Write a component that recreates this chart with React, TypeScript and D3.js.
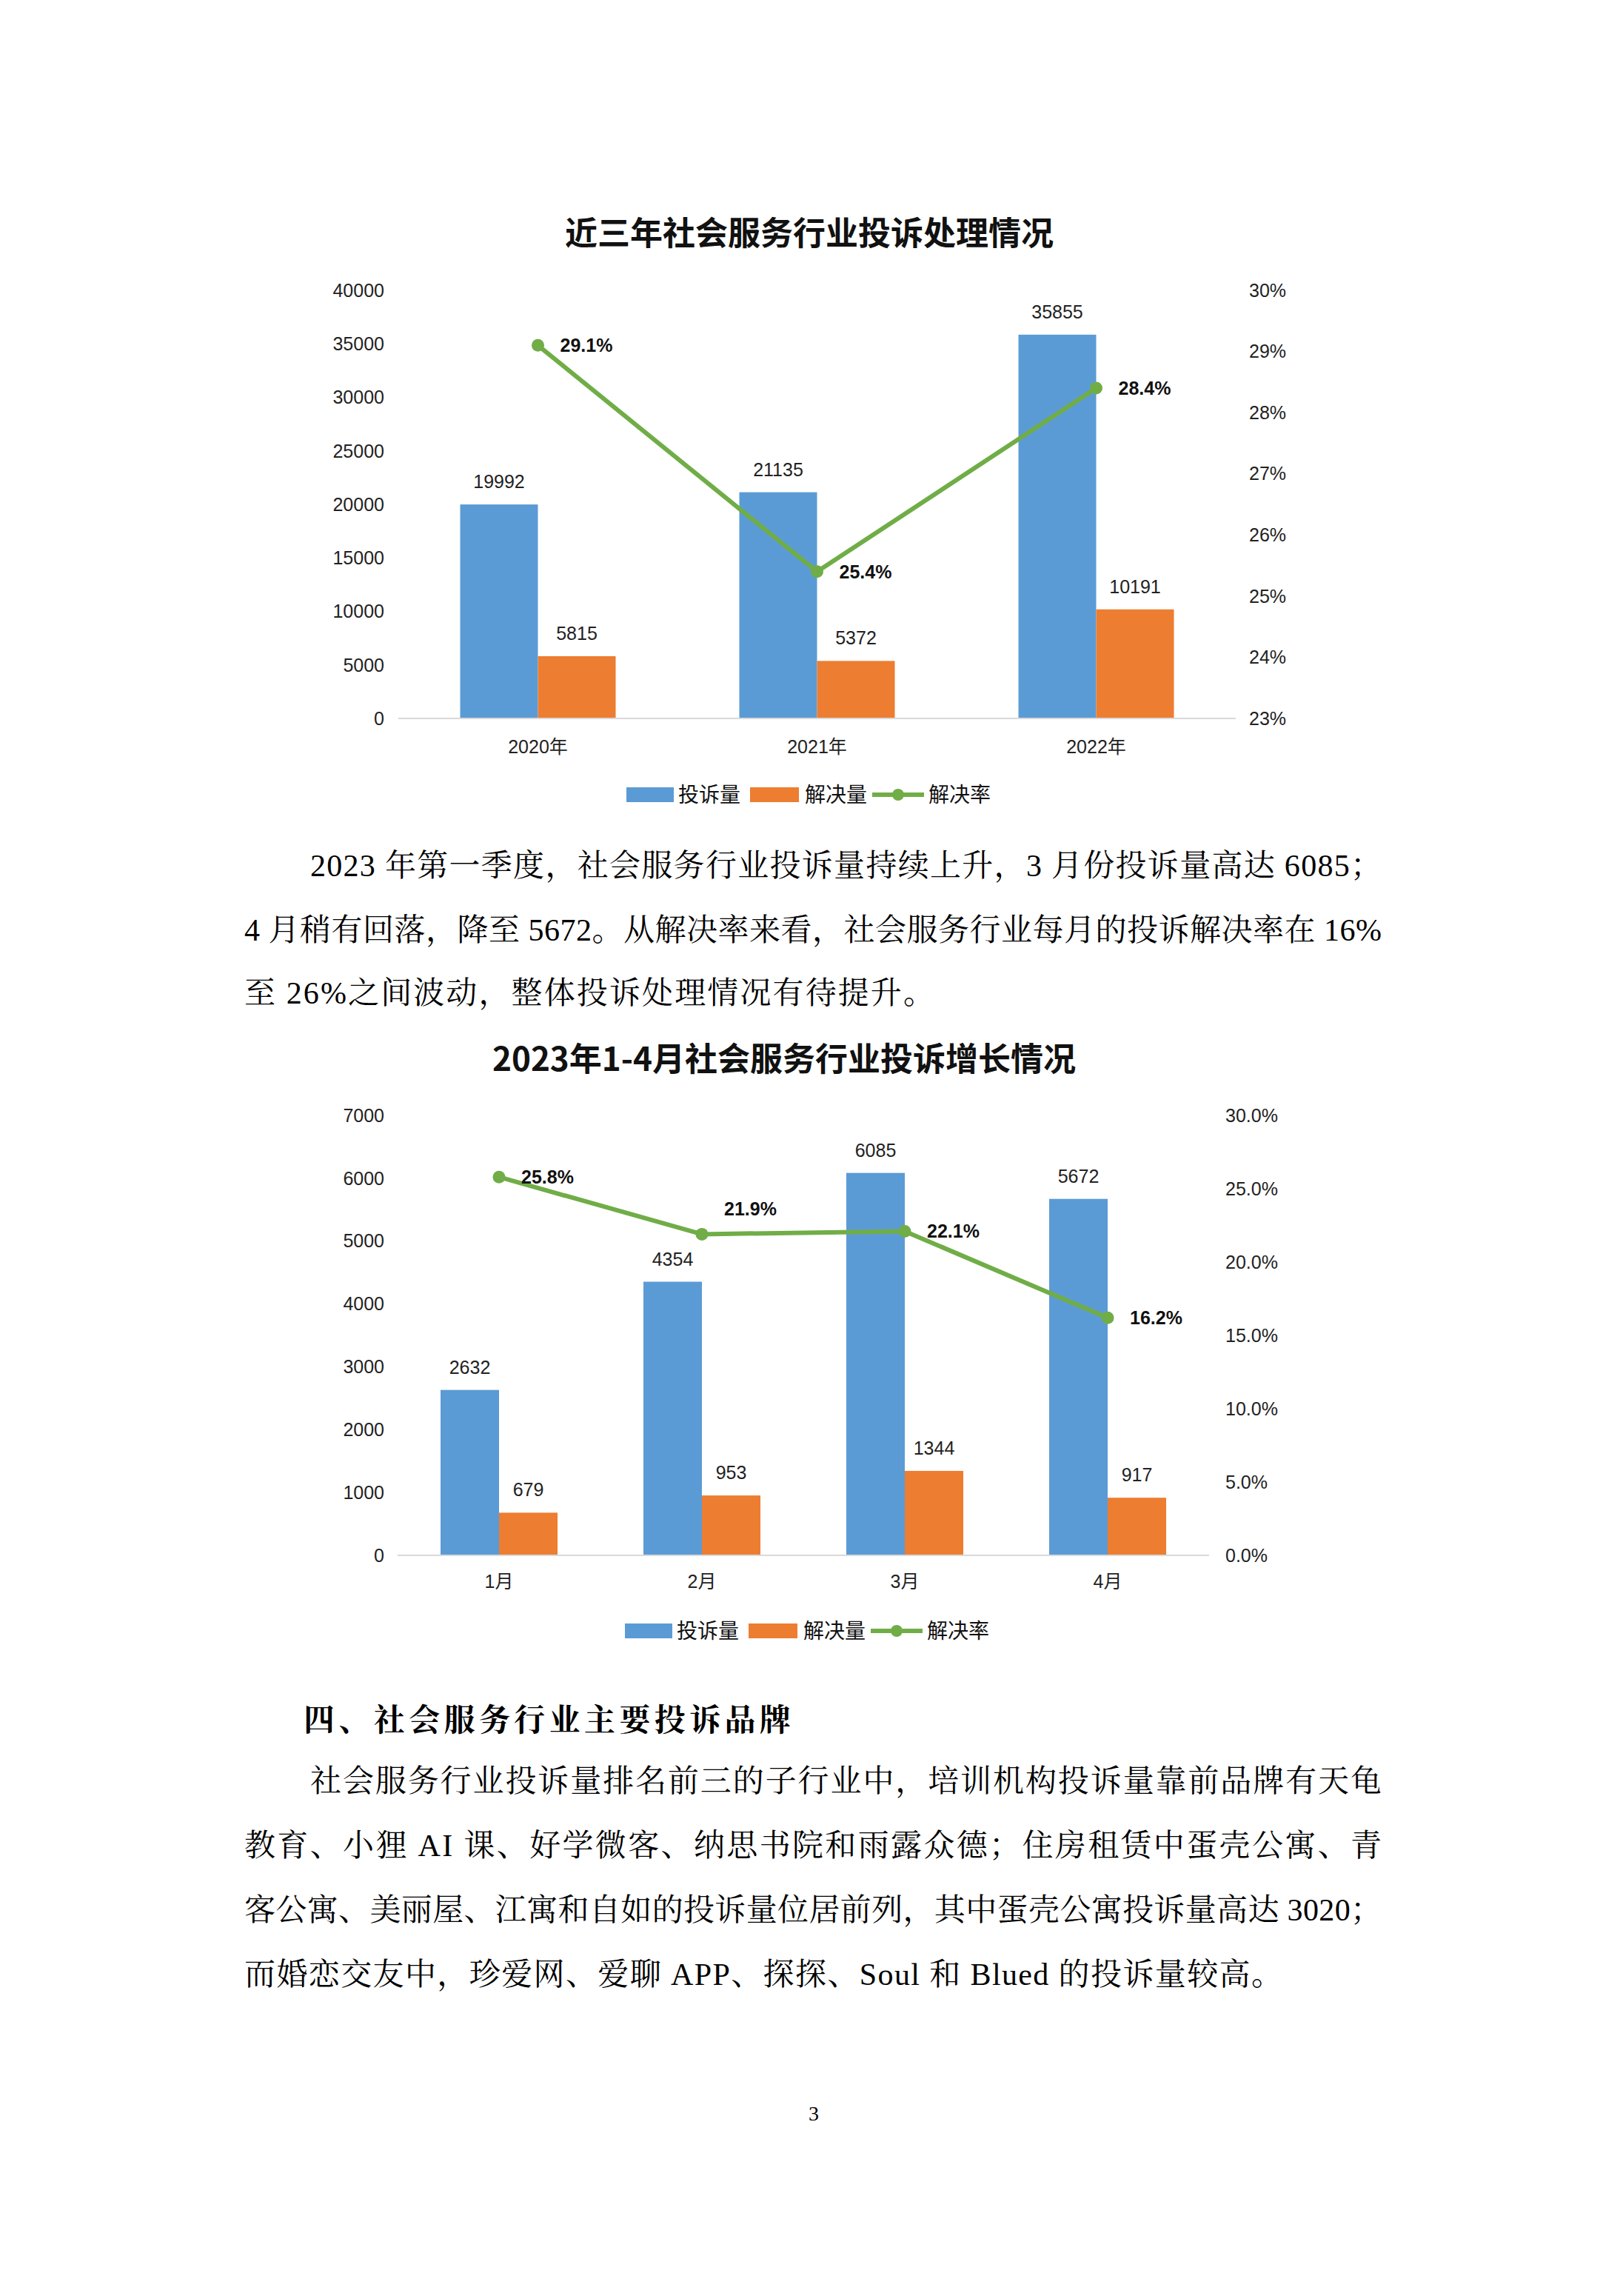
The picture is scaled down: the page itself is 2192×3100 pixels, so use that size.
import * as d3 from 'd3';

// 近三年
const years = ['2020年', '2021年', '2022年'];
const yearComplaints = [19992, 21135, 35855];
const yearResolved = [5815, 5372, 10191];
const yearRate = [29.1, 25.4, 28.4];
const yearLeftTicks = [0, 5000, 10000, 15000, 20000, 25000, 30000, 35000, 40000];
const yearRightTicks = [23, 24, 25, 26, 27, 28, 29, 30];

// 2023年1-4月
const months = ['1月', '2月', '3月', '4月'];
const monthComplaints = [2632, 4354, 6085, 5672];
const monthResolved = [679, 953, 1344, 917];
const monthRate = [25.8, 21.9, 22.1, 16.2];
const monthLeftTicks = [0, 1000, 2000, 3000, 4000, 5000, 6000, 7000];
const monthRightTicks = [0, 5, 10, 15, 20, 25, 30];

const seriesNames = ['投诉量', '解决量', '解决率'];

const para1 = [
  '2023 年第一季度，社会服务行业投诉量持续上升，3 月份投诉量高达 6085；',
  '4 月稍有回落，降至 5672。从解决率来看，社会服务行业每月的投诉解决率在 16%',
  '至 26%之间波动，整体投诉处理情况有待提升。',
];
const heading = '四、社会服务行业主要投诉品牌';
const para2 = [
  '社会服务行业投诉量排名前三的子行业中，培训机构投诉量靠前品牌有天龟',
  '教育、小狸 AI 课、好学微客、纳思书院和雨露众德；住房租赁中蛋壳公寓、青',
  '客公寓、美丽屋、江寓和自如的投诉量位居前列，其中蛋壳公寓投诉量高达 3020；',
  '而婚恋交友中，珍爱网、爱聊 APP、探探、Soul 和 Blued 的投诉量较高。',
];

const BLUE = '#5B9BD5';
const ORANGE = '#ED7D31';
const GREEN = '#70AD47';
const NUM_FONT = '"Liberation Sans", Arial, "Noto Sans CJK SC", sans-serif';
const CJK_FONT = '"Noto Sans CJK SC", sans-serif';
const BODY_FONT = '"Liberation Serif", "Noto Serif CJK SC", "Noto Sans CJK SC", serif';

interface ChartProps {
  title: string;
  titleX: number;
  titleY: number;
  categories: string[];
  complaints: number[];
  resolved: number[];
  rate: number[];
  leftTicks: number[];
  rightTicks: number[];
  rightFmt: (v: number) => string;
  xRange: [number, number];
  yRange: [number, number];
  barW: number;
  leftX: number;
  rightX: number;
  catY: number;
  legendX: number;
  legendY: number;
  aboveIdx?: number;
}

function ComboChart(p: ChartProps) {
  const x = d3.scaleBand<string>().domain(p.categories).range(p.xRange);
  const yL = d3.scaleLinear()
    .domain([p.leftTicks[0], p.leftTicks[p.leftTicks.length - 1]])
    .range(p.yRange);
  const yR = d3.scaleLinear()
    .domain([p.rightTicks[0], p.rightTicks[p.rightTicks.length - 1]])
    .range(p.yRange);
  const cx = (c: string) => (x(c) ?? 0) + x.bandwidth() / 2;

  const line = d3.line<number>()
    .x((_, i) => cx(p.categories[i]))
    .y(d => yR(d));

  const lx = p.legendX;
  const ly = p.legendY;

  return (
    <g>
      <text x={p.titleX} y={p.titleY} textAnchor="middle" fontFamily={CJK_FONT}
        fontWeight="bold" fontSize={44} fill="#111">{p.title}</text>

      {p.leftTicks.map(t => (
        <text key={'l' + t} x={p.leftX} y={yL(t)} dy="0.35em" textAnchor="end"
          fontFamily={NUM_FONT} fontSize={25} fill="#222">{t}</text>
      ))}
      {p.rightTicks.map(t => (
        <text key={'r' + t} x={p.rightX} y={yR(t)} dy="0.35em"
          fontFamily={NUM_FONT} fontSize={25} fill="#222">{p.rightFmt(t)}</text>
      ))}

      {p.categories.map((c, i) => {
        const c0 = cx(c);
        const hb = yL(p.complaints[i]);
        const ho = yL(p.resolved[i]);
        return (
          <g key={c}>
            <rect x={c0 - p.barW} y={hb} width={p.barW} height={p.yRange[0] - hb} fill={BLUE} />
            <rect x={c0} y={ho} width={p.barW} height={p.yRange[0] - ho} fill={ORANGE} />
            <text x={c0 - p.barW / 2} y={hb - 22} textAnchor="middle"
              fontFamily={NUM_FONT} fontSize={25} fill="#222">{p.complaints[i]}</text>
            <text x={c0 + p.barW / 2} y={ho - 22} textAnchor="middle"
              fontFamily={NUM_FONT} fontSize={25} fill="#222">{p.resolved[i]}</text>
            <text x={c0} y={p.catY} textAnchor="middle"
              fontFamily={NUM_FONT} fontSize={25} fill="#222">{c}</text>
          </g>
        );
      })}

      <line x1={p.xRange[0]} x2={p.xRange[1]} y1={p.yRange[0]} y2={p.yRange[0]}
        stroke="#D9D9D9" strokeWidth={2} />

      <path d={line(p.rate) ?? ''} fill="none" stroke={GREEN} strokeWidth={6}
        strokeLinejoin="round" />
      {p.rate.map((r, i) => {
        const px = cx(p.categories[i]);
        const py = yR(r);
        const above = i === p.aboveIdx;
        return (
          <g key={'p' + i}>
            <circle cx={px} cy={py} r={8.5} fill={GREEN} />
            <text x={px + 30} y={above ? py - 34 : py} dy="0.35em"
              fontFamily={NUM_FONT} fontSize={25} fontWeight={600} fill="#111">
              {r.toFixed(1)}%
            </text>
          </g>
        );
      })}

      <rect x={lx} y={ly - 10} width={64} height={20} fill={BLUE} />
      <text x={lx + 70} y={ly} dy="0.36em" fontFamily={CJK_FONT} fontSize={28} fill="#111">{seriesNames[0]}</text>
      <rect x={lx + 167} y={ly - 10} width={66} height={20} fill={ORANGE} />
      <text x={lx + 241} y={ly} dy="0.36em" fontFamily={CJK_FONT} fontSize={28} fill="#111">{seriesNames[1]}</text>
      <line x1={lx + 332} x2={lx + 402} y1={ly} y2={ly} stroke={GREEN} strokeWidth={6} />
      <circle cx={lx + 367} cy={ly} r={8} fill={GREEN} />
      <text x={lx + 408} y={ly} dy="0.36em" fontFamily={CJK_FONT} fontSize={28} fill="#111">{seriesNames[2]}</text>
    </g>
  );
}

function BodyLine({ text, x, y, end, bold }: { text: string; x: number; y: number; end?: number; bold?: boolean }) {
  return (
    <text x={x} y={y} fontFamily={BODY_FONT} fontSize={42} fill="#000"
      fontWeight={bold ? 'bold' : 'normal'}
      textLength={end ? end - x : undefined}
      lengthAdjust={end ? 'spacing' : undefined}>
      {text}
    </text>
  );
}

export default function App() {
  const left = 330;
  const indent = 419;
  const right = 1866;
  return (
    <svg width={2192} height={3100} style={{ position: 'absolute', left: 0, top: 0, background: '#fff' }}>
      <rect width={2192} height={3100} fill="#fff" />
      <ComboChart
        title="近三年社会服务行业投诉处理情况"
        titleX={1093} titleY={331}
        categories={years}
        complaints={yearComplaints}
        resolved={yearResolved}
        rate={yearRate}
        leftTicks={yearLeftTicks}
        rightTicks={yearRightTicks}
        rightFmt={v => `${v}%`}
        xRange={[538, 1669]}
        yRange={[970, 392]}
        barW={105}
        leftX={519}
        rightX={1687}
        catY={1017}
        legendX={846}
        legendY={1073}
      />

      <BodyLine text={para1[0]} x={indent} y={1183} end={right} />
      <BodyLine text={para1[1]} x={left} y={1270} end={right} />
      <BodyLine text={para1[2]} x={left} y={1355} end={1262} />

      <ComboChart
        title="2023年1-4月社会服务行业投诉增长情况"
        titleX={1059} titleY={1446}
        categories={months}
        complaints={monthComplaints}
        resolved={monthResolved}
        rate={monthRate}
        leftTicks={monthLeftTicks}
        rightTicks={monthRightTicks}
        rightFmt={v => `${v.toFixed(1)}%`}
        xRange={[537, 1633]}
        yRange={[2100, 1506]}
        barW={79}
        leftX={519}
        rightX={1655}
        catY={2144}
        legendX={844}
        legendY={2202}
        aboveIdx={1}
      />

      <BodyLine text={heading} x={410} y={2337} end={1068} bold />
      <BodyLine text={para2[0]} x={indent} y={2419} end={right} />
      <BodyLine text={para2[1]} x={left} y={2506} end={right} />
      <BodyLine text={para2[2]} x={left} y={2593} end={right} />
      <BodyLine text={para2[3]} x={left} y={2680} end={1732} />

      <text x={1099} y={2863} textAnchor="middle" fontFamily={BODY_FONT} fontSize={28} fill="#000">3</text>
    </svg>
  );
}
